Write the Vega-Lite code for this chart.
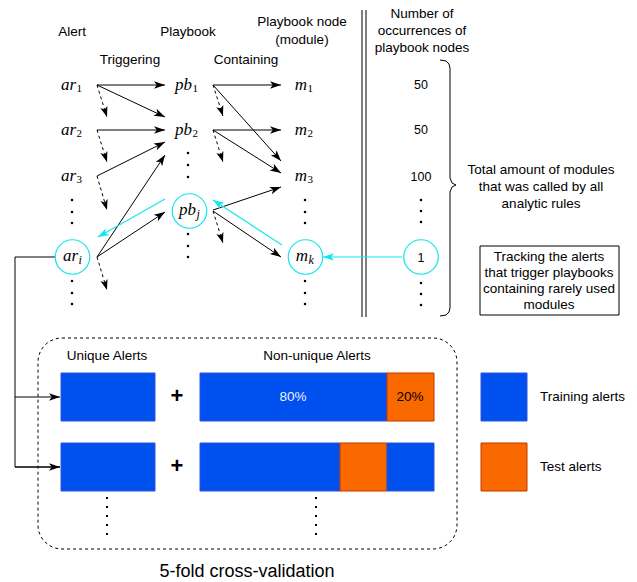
{
  "$schema": "https://vega.github.io/schema/vega-lite/v6.json",
  "width": 637,
  "height": 582,
  "autosize": "none",
  "padding": 0,
  "background": "white",
  "config": {"view": {"stroke": null}},
  "datasets": {
    "frame": [{"x": 38, "x2": 457, "y": 338, "y2": 549}],
    "box": [{"x": 480, "x2": 619, "y": 246, "y2": 315}],
    "bars": [
      {"set": "train", "x": 61, "x2": 155, "y": 373, "y2": 421},
      {"set": "train", "x": 200, "x2": 387, "y": 373, "y2": 421},
      {"set": "test", "x": 387, "x2": 434, "y": 373, "y2": 421},
      {"set": "train", "x": 61, "x2": 155, "y": 443, "y2": 491},
      {"set": "train", "x": 200, "x2": 340, "y": 443, "y2": 491},
      {"set": "test", "x": 340, "x2": 387, "y": 443, "y2": 491},
      {"set": "train", "x": 387, "x2": 434, "y": 443, "y2": 491},
      {"set": "train", "x": 481, "x2": 527, "y": 373, "y2": 421},
      {"set": "test", "x": 481, "x2": 527, "y": 443, "y2": 491}
    ],
    "vlines": [
      {"x": 362, "x2": 362, "y": 10, "y2": 317},
      {"x": 366, "x2": 366, "y": 10, "y2": 317}
    ],
    "brace": [
      {"o": 1, "x": 440, "y": 60}, {"o": 2, "x": 446, "y": 61}, {"o": 3, "x": 449, "y": 64},
      {"o": 4, "x": 450, "y": 68}, {"o": 5, "x": 450, "y": 178}, {"o": 6, "x": 452, "y": 183},
      {"o": 7, "x": 456, "y": 185}, {"o": 8, "x": 452, "y": 187}, {"o": 9, "x": 450, "y": 192},
      {"o": 10, "x": 450, "y": 308}, {"o": 11, "x": 449, "y": 312}, {"o": 12, "x": 446, "y": 315},
      {"o": 13, "x": 440, "y": 316}
    ],
    "connector": [
      {"o": 1, "x": 55, "y": 257}, {"o": 2, "x": 15, "y": 257},
      {"o": 3, "x": 15, "y": 467}, {"o": 4, "x": 60, "y": 467}
    ],
    "solid": [
      {"x": 97, "y": 85, "x2": 165, "y2": 85, "a": 0},
      {"x": 97, "y": 85, "x2": 165, "y2": 117, "a": 25.2},
      {"x": 97, "y": 130, "x2": 165, "y2": 130, "a": 0},
      {"x": 97, "y": 176, "x2": 165, "y2": 142, "a": -26.6},
      {"x": 97, "y": 257, "x2": 165, "y2": 155, "a": -56.3},
      {"x": 97, "y": 257, "x2": 165, "y2": 212, "a": -33.5},
      {"x": 213, "y": 85, "x2": 281, "y2": 85, "a": 0},
      {"x": 213, "y": 85, "x2": 281, "y2": 161, "a": 48.2},
      {"x": 213, "y": 130, "x2": 281, "y2": 130, "a": 0},
      {"x": 213, "y": 130, "x2": 281, "y2": 173, "a": 32.3},
      {"x": 213, "y": 210, "x2": 281, "y2": 187, "a": -18.7},
      {"x": 213, "y": 211, "x2": 281, "y2": 257, "a": 34.1},
      {"x": 15, "y": 397, "x2": 60, "y2": 397, "a": 0},
      {"x": 15, "y": 467, "x2": 60, "y2": 467, "a": 0}
    ],
    "dashed": [
      {"x": 97, "y": 85, "x2": 107, "y2": 117, "a": 72.6},
      {"x": 97, "y": 130, "x2": 107, "y2": 162, "a": 72.6},
      {"x": 97, "y": 176, "x2": 107, "y2": 210, "a": 73.6},
      {"x": 97, "y": 257, "x2": 107, "y2": 290, "a": 73.1},
      {"x": 213, "y": 85, "x2": 223, "y2": 116, "a": 72.1},
      {"x": 213, "y": 130, "x2": 223, "y2": 162, "a": 72.6},
      {"x": 213, "y": 211, "x2": 223, "y2": 243, "a": 72.6}
    ],
    "cyan": [
      {"x": 165, "y": 199, "x2": 98, "y2": 237, "a": 150.4},
      {"x": 282, "y": 245, "x2": 213, "y2": 200, "a": -146.9},
      {"x": 402, "y": 257, "x2": 323, "y2": 257, "a": 180}
    ],
    "circles": [
      {"x": 72.5, "y": 257}, {"x": 189.5, "y": 211}, {"x": 305.5, "y": 257}, {"x": 421, "y": 257}
    ],
    "dots": [
      {"x": 72, "y": 200}, {"x": 72, "y": 212}, {"x": 72, "y": 223},
      {"x": 72, "y": 281}, {"x": 72, "y": 293}, {"x": 72, "y": 304},
      {"x": 188, "y": 153}, {"x": 188, "y": 165}, {"x": 188, "y": 177},
      {"x": 188, "y": 234}, {"x": 188, "y": 246}, {"x": 188, "y": 257},
      {"x": 305, "y": 200}, {"x": 305, "y": 212}, {"x": 305, "y": 223},
      {"x": 305, "y": 281}, {"x": 305, "y": 293}, {"x": 305, "y": 304},
      {"x": 421, "y": 200}, {"x": 421, "y": 211}, {"x": 421, "y": 222},
      {"x": 421, "y": 283}, {"x": 421, "y": 294}, {"x": 421, "y": 305}
    ],
    "dotlines": [
      {"x": 107, "x2": 107, "y": 497, "y2": 537},
      {"x": 316, "x2": 316, "y": 497, "y2": 537}
    ],
    "sans": [
      {"t": "Alert", "x": 72, "y": 32},
      {"t": "Playbook", "x": 188, "y": 32},
      {"t": "Playbook node", "x": 302, "y": 22},
      {"t": "(module)", "x": 302, "y": 40},
      {"t": "Triggering", "x": 130, "y": 60},
      {"t": "Containing", "x": 246, "y": 60},
      {"t": "Number of", "x": 422, "y": 14},
      {"t": "occurrences of", "x": 422, "y": 31},
      {"t": "playbook nodes", "x": 422, "y": 48},
      {"t": "Total amount of modules", "x": 541, "y": 170},
      {"t": "that was called by all", "x": 541, "y": 187},
      {"t": "analytic rules", "x": 541, "y": 204},
      {"t": "Tracking the alerts", "x": 549, "y": 257},
      {"t": "that trigger playbooks", "x": 549, "y": 273},
      {"t": "containing rarely used", "x": 549, "y": 289},
      {"t": "modules", "x": 549, "y": 305},
      {"t": "Unique Alerts", "x": 107, "y": 356},
      {"t": "Non-unique Alerts", "x": 317, "y": 356},
      {"t": "20%", "x": 410, "y": 397}
    ],
    "counts": [
      {"t": "50", "x": 421, "y": 85},
      {"t": "50", "x": 421, "y": 130},
      {"t": "100", "x": 421, "y": 177},
      {"t": "1", "x": 421, "y": 258}
    ],
    "white": [{"t": "80%", "x": 293, "y": 397}],
    "legendText": [
      {"t": "Training alerts", "x": 540, "y": 397},
      {"t": "Test alerts", "x": 540, "y": 467}
    ],
    "plus": [{"t": "+", "x": 177, "y": 396}, {"t": "+", "x": 177, "y": 466}],
    "title": [{"t": "5-fold cross-validation", "x": 247, "y": 572}],
    "math": [
      {"m": "ar", "s": "1", "x": 76, "y": 85},
      {"m": "ar", "s": "2", "x": 76, "y": 130},
      {"m": "ar", "s": "3", "x": 76, "y": 176},
      {"m": "ar", "s": "i", "x": 78, "y": 256},
      {"m": "pb", "s": "1", "x": 192, "y": 85},
      {"m": "pb", "s": "2", "x": 192, "y": 130},
      {"m": "pb", "s": "j", "x": 196, "y": 210},
      {"m": "m", "s": "1", "x": 307, "y": 85},
      {"m": "m", "s": "2", "x": 307, "y": 130},
      {"m": "m", "s": "3", "x": 307, "y": 176},
      {"m": "m", "s": "k", "x": 308, "y": 256}
    ]
  },
  "layer": [
    {
      "data": {"name": "frame"},
      "mark": {"type": "rect", "fill": null, "stroke": "#000000", "strokeWidth": 1, "strokeDash": [3, 3], "cornerRadius": 24},
      "encoding": {
        "x": {"field": "x", "type": "quantitative", "scale": {"domain": [0, 637], "nice": false, "zero": false}, "axis": null},
        "x2": {"field": "x2"},
        "y": {"field": "y", "type": "quantitative", "scale": {"domain": [0, 582], "nice": false, "zero": false, "reverse": true}, "axis": null},
        "y2": {"field": "y2"}
      }
    },
    {
      "data": {"name": "box"},
      "mark": {"type": "rect", "fill": "#ffffff", "stroke": "#000000", "strokeWidth": 1},
      "encoding": {
        "x": {"field": "x", "type": "quantitative", "scale": {"domain": [0, 637], "nice": false, "zero": false}, "axis": null},
        "x2": {"field": "x2"},
        "y": {"field": "y", "type": "quantitative", "scale": {"domain": [0, 582], "nice": false, "zero": false, "reverse": true}, "axis": null},
        "y2": {"field": "y2"}
      }
    },
    {
      "data": {"name": "bars"},
      "mark": {"type": "rect", "strokeWidth": 1, "opacity": 1},
      "encoding": {
        "x": {"field": "x", "type": "quantitative", "scale": {"domain": [0, 637], "nice": false, "zero": false}, "axis": null},
        "x2": {"field": "x2"},
        "y": {"field": "y", "type": "quantitative", "scale": {"domain": [0, 582], "nice": false, "zero": false, "reverse": true}, "axis": null},
        "y2": {"field": "y2"},
        "fill": {"field": "set", "type": "nominal", "scale": {"domain": ["train", "test"], "range": ["#0050EF", "#FA6800"]}, "legend": null},
        "stroke": {"field": "set", "type": "nominal", "scale": {"domain": ["train", "test"], "range": ["#2a56d8", "#C73500"]}, "legend": null}
      }
    },
    {
      "data": {"name": "vlines"},
      "mark": {"type": "rule", "color": "#000000", "strokeWidth": 1},
      "encoding": {
        "x": {"field": "x", "type": "quantitative", "scale": {"domain": [0, 637], "nice": false, "zero": false}, "axis": null},
        "x2": {"field": "x2"},
        "y": {"field": "y", "type": "quantitative", "scale": {"domain": [0, 582], "nice": false, "zero": false, "reverse": true}, "axis": null},
        "y2": {"field": "y2"}
      }
    },
    {
      "data": {"name": "brace"},
      "mark": {"type": "line", "color": "#000000", "strokeWidth": 1},
      "encoding": {
        "x": {"field": "x", "type": "quantitative", "scale": {"domain": [0, 637], "nice": false, "zero": false}, "axis": null},
        "y": {"field": "y", "type": "quantitative", "scale": {"domain": [0, 582], "nice": false, "zero": false, "reverse": true}, "axis": null},
        "order": {"field": "o", "type": "quantitative"}
      }
    },
    {
      "data": {"name": "connector"},
      "mark": {"type": "line", "color": "#000000", "strokeWidth": 1},
      "encoding": {
        "x": {"field": "x", "type": "quantitative", "scale": {"domain": [0, 637], "nice": false, "zero": false}, "axis": null},
        "y": {"field": "y", "type": "quantitative", "scale": {"domain": [0, 582], "nice": false, "zero": false, "reverse": true}, "axis": null},
        "order": {"field": "o", "type": "quantitative"}
      }
    },
    {
      "data": {"name": "solid"},
      "mark": {"type": "rule", "color": "#000000", "strokeWidth": 1},
      "encoding": {
        "x": {"field": "x", "type": "quantitative", "scale": {"domain": [0, 637], "nice": false, "zero": false}, "axis": null},
        "x2": {"field": "x2"},
        "y": {"field": "y", "type": "quantitative", "scale": {"domain": [0, 582], "nice": false, "zero": false, "reverse": true}, "axis": null},
        "y2": {"field": "y2"}
      }
    },
    {
      "data": {"name": "solid"},
      "mark": {"type": "point", "filled": true, "color": "#000000", "opacity": 1, "size": 121, "shape": "M0,0L-2,-0.7L-1.5,0L-2,0.7Z"},
      "encoding": {
        "x": {"field": "x2", "type": "quantitative", "scale": {"domain": [0, 637], "nice": false, "zero": false}, "axis": null},
        "y": {"field": "y2", "type": "quantitative", "scale": {"domain": [0, 582], "nice": false, "zero": false, "reverse": true}, "axis": null},
        "angle": {"field": "a", "type": "quantitative", "scale": null}
      }
    },
    {
      "data": {"name": "dashed"},
      "mark": {"type": "rule", "color": "#000000", "strokeWidth": 1, "strokeDash": [3, 3]},
      "encoding": {
        "x": {"field": "x", "type": "quantitative", "scale": {"domain": [0, 637], "nice": false, "zero": false}, "axis": null},
        "x2": {"field": "x2"},
        "y": {"field": "y", "type": "quantitative", "scale": {"domain": [0, 582], "nice": false, "zero": false, "reverse": true}, "axis": null},
        "y2": {"field": "y2"}
      }
    },
    {
      "data": {"name": "dashed"},
      "mark": {"type": "point", "filled": true, "color": "#000000", "opacity": 1, "size": 110, "shape": "M0,0L-2,-0.7L-1.5,0L-2,0.7Z"},
      "encoding": {
        "x": {"field": "x2", "type": "quantitative", "scale": {"domain": [0, 637], "nice": false, "zero": false}, "axis": null},
        "y": {"field": "y2", "type": "quantitative", "scale": {"domain": [0, 582], "nice": false, "zero": false, "reverse": true}, "axis": null},
        "angle": {"field": "a", "type": "quantitative", "scale": null}
      }
    },
    {
      "data": {"name": "circles"},
      "mark": {"type": "point", "shape": "circle", "filled": false, "stroke": "#14E6EE", "strokeWidth": 1.2, "opacity": 1, "size": 1190},
      "encoding": {
        "x": {"field": "x", "type": "quantitative", "scale": {"domain": [0, 637], "nice": false, "zero": false}, "axis": null},
        "y": {"field": "y", "type": "quantitative", "scale": {"domain": [0, 582], "nice": false, "zero": false, "reverse": true}, "axis": null}
      }
    },
    {
      "data": {"name": "cyan"},
      "mark": {"type": "rule", "color": "#14E6EE", "strokeWidth": 1.2},
      "encoding": {
        "x": {"field": "x", "type": "quantitative", "scale": {"domain": [0, 637], "nice": false, "zero": false}, "axis": null},
        "x2": {"field": "x2"},
        "y": {"field": "y", "type": "quantitative", "scale": {"domain": [0, 582], "nice": false, "zero": false, "reverse": true}, "axis": null},
        "y2": {"field": "y2"}
      }
    },
    {
      "data": {"name": "cyan"},
      "mark": {"type": "point", "filled": true, "color": "#14E6EE", "opacity": 1, "size": 121, "shape": "M0,0L-2,-0.7L-1.5,0L-2,0.7Z"},
      "encoding": {
        "x": {"field": "x2", "type": "quantitative", "scale": {"domain": [0, 637], "nice": false, "zero": false}, "axis": null},
        "y": {"field": "y2", "type": "quantitative", "scale": {"domain": [0, 582], "nice": false, "zero": false, "reverse": true}, "axis": null},
        "angle": {"field": "a", "type": "quantitative", "scale": null}
      }
    },
    {
      "data": {"name": "dots"},
      "mark": {"type": "point", "shape": "square", "filled": true, "color": "#000000", "opacity": 1, "size": 5},
      "encoding": {
        "x": {"field": "x", "type": "quantitative", "scale": {"domain": [0, 637], "nice": false, "zero": false}, "axis": null},
        "y": {"field": "y", "type": "quantitative", "scale": {"domain": [0, 582], "nice": false, "zero": false, "reverse": true}, "axis": null}
      }
    },
    {
      "data": {"name": "dotlines"},
      "mark": {"type": "rule", "color": "#000000", "strokeWidth": 2, "strokeDash": [2, 7]},
      "encoding": {
        "x": {"field": "x", "type": "quantitative", "scale": {"domain": [0, 637], "nice": false, "zero": false}, "axis": null},
        "x2": {"field": "x2"},
        "y": {"field": "y", "type": "quantitative", "scale": {"domain": [0, 582], "nice": false, "zero": false, "reverse": true}, "axis": null},
        "y2": {"field": "y2"}
      }
    },
    {
      "data": {"name": "sans"},
      "mark": {"type": "text", "font": "Liberation Sans", "fontSize": 13.5, "color": "#000000", "align": "center", "baseline": "middle"},
      "encoding": {
        "x": {"field": "x", "type": "quantitative", "scale": {"domain": [0, 637], "nice": false, "zero": false}, "axis": null},
        "y": {"field": "y", "type": "quantitative", "scale": {"domain": [0, 582], "nice": false, "zero": false, "reverse": true}, "axis": null},
        "text": {"field": "t"}
      }
    },
    {
      "data": {"name": "counts"},
      "mark": {"type": "text", "font": "Liberation Sans", "fontSize": 12.5, "color": "#000000", "align": "center", "baseline": "middle"},
      "encoding": {
        "x": {"field": "x", "type": "quantitative", "scale": {"domain": [0, 637], "nice": false, "zero": false}, "axis": null},
        "y": {"field": "y", "type": "quantitative", "scale": {"domain": [0, 582], "nice": false, "zero": false, "reverse": true}, "axis": null},
        "text": {"field": "t"}
      }
    },
    {
      "data": {"name": "white"},
      "mark": {"type": "text", "font": "Liberation Sans", "fontSize": 13.5, "color": "#EEF2FF", "align": "center", "baseline": "middle"},
      "encoding": {
        "x": {"field": "x", "type": "quantitative", "scale": {"domain": [0, 637], "nice": false, "zero": false}, "axis": null},
        "y": {"field": "y", "type": "quantitative", "scale": {"domain": [0, 582], "nice": false, "zero": false, "reverse": true}, "axis": null},
        "text": {"field": "t"}
      }
    },
    {
      "data": {"name": "legendText"},
      "mark": {"type": "text", "font": "Liberation Sans", "fontSize": 13.5, "color": "#000000", "align": "left", "baseline": "middle"},
      "encoding": {
        "x": {"field": "x", "type": "quantitative", "scale": {"domain": [0, 637], "nice": false, "zero": false}, "axis": null},
        "y": {"field": "y", "type": "quantitative", "scale": {"domain": [0, 582], "nice": false, "zero": false, "reverse": true}, "axis": null},
        "text": {"field": "t"}
      }
    },
    {
      "data": {"name": "plus"},
      "mark": {"type": "text", "font": "Liberation Sans", "fontSize": 22, "fontWeight": "bold", "color": "#000000", "align": "center", "baseline": "middle"},
      "encoding": {
        "x": {"field": "x", "type": "quantitative", "scale": {"domain": [0, 637], "nice": false, "zero": false}, "axis": null},
        "y": {"field": "y", "type": "quantitative", "scale": {"domain": [0, 582], "nice": false, "zero": false, "reverse": true}, "axis": null},
        "text": {"field": "t"}
      }
    },
    {
      "data": {"name": "title"},
      "mark": {"type": "text", "font": "Liberation Sans", "fontSize": 18, "color": "#000000", "align": "center", "baseline": "middle"},
      "encoding": {
        "x": {"field": "x", "type": "quantitative", "scale": {"domain": [0, 637], "nice": false, "zero": false}, "axis": null},
        "y": {"field": "y", "type": "quantitative", "scale": {"domain": [0, 582], "nice": false, "zero": false, "reverse": true}, "axis": null},
        "text": {"field": "t"}
      }
    },
    {
      "data": {"name": "math"},
      "mark": {"type": "text", "font": "Liberation Serif", "fontStyle": "italic", "fontSize": 17, "color": "#000000", "align": "right", "baseline": "middle"},
      "encoding": {
        "x": {"field": "x", "type": "quantitative", "scale": {"domain": [0, 637], "nice": false, "zero": false}, "axis": null},
        "y": {"field": "y", "type": "quantitative", "scale": {"domain": [0, 582], "nice": false, "zero": false, "reverse": true}, "axis": null},
        "text": {"field": "m"}
      }
    },
    {
      "data": {"name": "math"},
      "transform": [{"filter": {"field": "s", "oneOf": ["1", "2", "3"]}}],
      "mark": {"type": "text", "font": "Liberation Serif", "fontSize": 11, "color": "#000000", "align": "left", "baseline": "middle", "dy": 4, "dx": 0.5},
      "encoding": {
        "x": {"field": "x", "type": "quantitative", "scale": {"domain": [0, 637], "nice": false, "zero": false}, "axis": null},
        "y": {"field": "y", "type": "quantitative", "scale": {"domain": [0, 582], "nice": false, "zero": false, "reverse": true}, "axis": null},
        "text": {"field": "s"}
      }
    },
    {
      "data": {"name": "math"},
      "transform": [{"filter": {"field": "s", "oneOf": ["i", "j", "k"]}}],
      "mark": {"type": "text", "font": "Liberation Serif", "fontStyle": "italic", "fontSize": 12, "color": "#000000", "align": "left", "baseline": "middle", "dy": 4, "dx": 0.5},
      "encoding": {
        "x": {"field": "x", "type": "quantitative", "scale": {"domain": [0, 637], "nice": false, "zero": false}, "axis": null},
        "y": {"field": "y", "type": "quantitative", "scale": {"domain": [0, 582], "nice": false, "zero": false, "reverse": true}, "axis": null},
        "text": {"field": "s"}
      }
    }
  ]
}
